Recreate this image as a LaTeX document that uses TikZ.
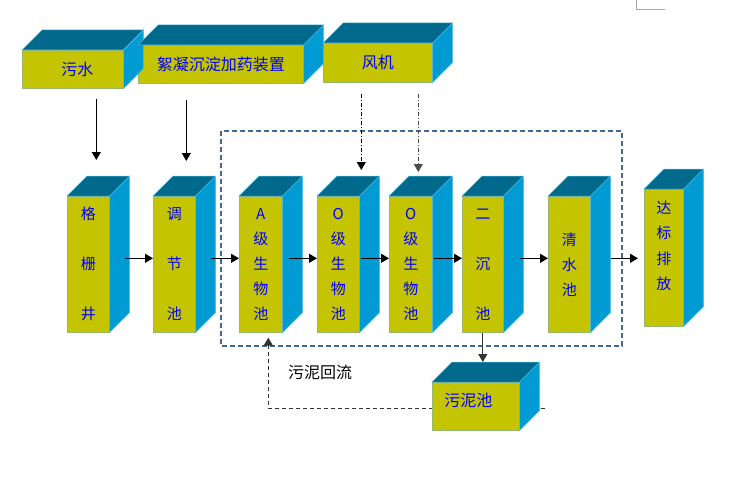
\documentclass[tikz,border=0pt]{standalone}
\usepackage{fontspec}
\setmainfont{Noto Sans CJK SC}
\usetikzlibrary{arrows.meta}

\definecolor{facefront}{RGB}{196,196,0}
\definecolor{facetop}{RGB}{0,105,140}
\definecolor{faceside}{RGB}{0,155,210}
\definecolor{edgefront}{RGB}{150,185,110}
\definecolor{edgeside}{RGB}{90,190,230}
\definecolor{textblue}{RGB}{0,0,255}
\definecolor{framegray}{RGB}{65,105,150}

\begin{document}
\begin{tikzpicture}[
        x=1pt, y=-1pt,
        block/.style={rectangle, fill=facefront, draw=edgefront, line width=0.6pt, inner sep=0pt, anchor=north west, text=textblue, align=center, font=\fontsize{15}{25}\selectfont},
        longblock/.style={block, minimum height=136pt},
        flatblock/.style={block, font=\fontsize{16}{18}\selectfont},
        blocktext/.style={text=textblue, align=center, inner sep=0pt},
        topface/.style={fill=facetop, draw=edgeside, line width=0.5pt},
        sideface/.style={fill=faceside, draw=edgeside, line width=0.5pt},
        arrow/.style={-{Triangle[width=9pt,length=8pt]}, line width=1.2pt},
        airline/.style={arrow, line width=1pt, dash pattern=on 4pt off 2pt on 1pt off 2pt},
        returnline/.style={arrow, line width=1pt, black!80, dash pattern=on 4pt off 3pt},
        frame/.style={draw=framegray, line width=1.3pt, dash pattern=on 5pt off 3pt}
    ]
        \useasboundingbox (0,0) rectangle (741,495);

        % Top row: inputs
        \node[flatblock, minimum width=101pt, minimum height=38pt] (wastewater) at (22,50) {\hspace{9pt}污水};
        \node[flatblock, minimum width=165pt, minimum height=38pt] (dosing) at (138,45) {絮凝沉淀加药装置};
        \node[flatblock, minimum width=109pt, minimum height=39pt] (blower) at (323,43) {风机};

        % Main treatment line
        \node[longblock, minimum width=42pt] (screen) at (67,196) {格\\[25pt]栅\\[25pt]井};
        \node[longblock, minimum width=42pt] (equal) at (153,196) {调\\[25pt]节\\[25pt]池};
        \node[longblock, minimum width=43pt] (abio) at (239,196) {A\\级\\生\\物\\池};
        \node[longblock, minimum width=42pt] (obio1) at (317,196) {O\\级\\生\\物\\池};
        \node[longblock, minimum width=43pt] (obio2) at (389,196) {O\\级\\生\\物\\池};
        \node[longblock, minimum width=41pt] (settle) at (462,196) {二\\[25pt]沉\\[25pt]池};
        \node[longblock, minimum width=42pt] (clear) at (548,196) {清\\水\\池};
        \node[longblock, minimum width=39pt, minimum height=137pt] (discharge) at (644,189) {};
        \node[blocktext, font=\fontsize{15}{25.5}\selectfont] (dischargetext) at ([yshift=12pt]discharge.center) {达\\标\\排\\放};

        % Depth faces
        \foreach \n in {wastewater, dosing, blower, screen, equal, abio, obio1, obio2, settle, clear, discharge} {
            \filldraw[topface] (\n.north west) -- ++(20,-20) -- ([shift={(20,-20)}]\n.north east) -- (\n.north east) -- cycle;
            \filldraw[sideface] (\n.north east) -- ([shift={(20,-20)}]\n.north east) -- ([shift={(20,-20)}]\n.south east) -- (\n.south east) -- cycle;
        }

        % Biological section frame
        \draw[frame] (221,131) rectangle (622,346);

        % Feed arrows
        \coordinate (screenin) at ([xshift=8pt]screen.north);
        \coordinate (equalin) at ([xshift=12pt]equal.north);
        \coordinate (obio1in) at ([xshift=23pt]obio1.north);
        \coordinate (obio2in) at ([xshift=7.5pt]obio2.north);
        \draw[arrow, shorten <=10pt, shorten >=36pt] (screenin |- wastewater.south) -- (screenin);
        \draw[arrow, shorten <=16pt, shorten >=35pt] (equalin |- dosing.south) -- (equalin);
        \draw[airline, shorten <=11pt, shorten >=26pt] (obio1in |- blower.south) -- (obio1in);
        \draw[airline, black!70, shorten <=11pt, shorten >=24pt] (obio2in |- blower.south) -- (obio2in);

        % Flow arrows
        \foreach \a/\b/\s/\e in {screen/equal/15/0, equal/abio/15/0, abio/obio1/6/0, obio1/obio2/1/0, obio2/settle/1/0, settle/clear/16/0, clear/discharge/20/6} {
            \draw[arrow, shorten >=\e pt] ([shift={(\s,-6)}]\a.east) coordinate (flowstart) -- (flowstart -| \b.west);
        }

        % Sludge return
        \node[black, font=\fontsize{16}{18}\selectfont] (returnlabel) at (320,372) {污泥回流};
        \coordinate (returnend) at (545,408);
        \coordinate (abioin) at ([xshift=7.5pt]abio.south);
        \draw[returnline, shorten >=5pt] (returnend) -| (abioin);

        % Sludge tank
        \node[flatblock, minimum width=87pt, minimum height=48pt] (sludge) at (432,382) {};
        \node[blocktext, font=\fontsize{16}{18}\selectfont] (sludgetext) at ([shift={(-7.5,-6)}]sludge.center) {污泥池};
        \filldraw[topface] (sludge.north west) -- ++(20,-20) -- ([shift={(20,-20)}]sludge.north east) -- (sludge.north east) -- cycle;
        \filldraw[sideface] (sludge.north east) -- ([shift={(20,-20)}]sludge.north east) -- ([shift={(20,-20)}]sludge.south east) -- (sludge.south east) -- cycle;
        \draw[arrow, line width=1pt, black!80, shorten >=20pt] (settle.south) -- (settle.south |- sludge.north);

        % Page corner mark
        \draw[gray!70, line width=0.8pt] (636,0) -- (636,9) -- (665,9);

    \end{tikzpicture}
\end{document}
